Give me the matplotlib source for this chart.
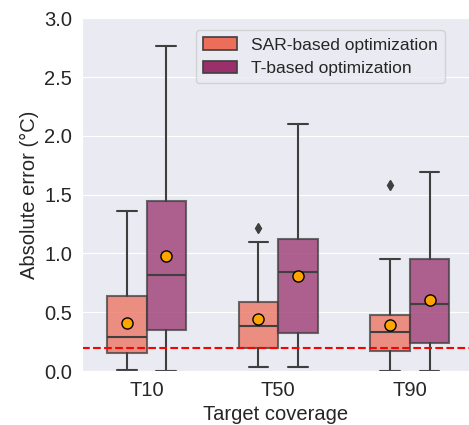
import numpy as np
import matplotlib
matplotlib.use("Agg")
import matplotlib.pyplot as plt
import seaborn as sns
from matplotlib.patches import Patch

sns.set_style("darkgrid")
plt.rcParams['font.family'] = ['Liberation Sans', 'DejaVu Sans']

coverage = ['T10', 'T50', 'T90']
methods = ['SAR-based optimization', 'T-based optimization']
colors = ['#ec6e5a', '#99306b']

# summary stats: per method, per coverage
whislo = [[0.01, 0.03, 0.00], [0.00, 0.03, 0.00]]
q1 = [[0.15, 0.20, 0.17], [0.35, 0.32, 0.24]]
med = [[0.29, 0.38, 0.33], [0.82, 0.84, 0.57]]
q3 = [[0.64, 0.59, 0.48], [1.45, 1.12, 0.95]]
whishi = [[1.36, 1.10, 0.95], [2.76, 2.10, 1.69]]
means = [[0.41, 0.44, 0.39], [0.98, 0.81, 0.60]]
fliers = [[[], [1.22], [1.58]], [[], [], []]]
threshold = 0.2

fig, ax = plt.subplots(figsize=(4.69, 4.25), dpi=100)
fig.subplots_adjust(left=0.175, right=1.0, top=0.957, bottom=0.127)

x = np.arange(len(coverage))
w = 0.3
for m in range(2):
    stats = []
    for i in range(3):
        stats.append(dict(whislo=whislo[m][i], q1=q1[m][i], med=med[m][i],
                          q3=q3[m][i], whishi=whishi[m][i], mean=means[m][i],
                          fliers=fliers[m][i]))
    pos = x + (m - 0.5) * w
    ax.bxp(stats, positions=pos, widths=w, patch_artist=True, showmeans=True,
           boxprops=dict(facecolor=colors[m], edgecolor='#3f3f3f', linewidth=1.5, alpha=0.75),
           medianprops=dict(color='#3f3f3f', linewidth=1.5),
           whiskerprops=dict(color='#3f3f3f', linewidth=1.5),
           capprops=dict(color='#3f3f3f', linewidth=1.5),
           flierprops=dict(marker='d', markerfacecolor='#3f3f3f', markeredgecolor='#3f3f3f', markersize=5),
           meanprops=dict(marker='o', markerfacecolor='orange', markeredgecolor='black', markersize=8),
           manage_ticks=False)

ax.axhline(threshold, color='red', linestyle='--', linewidth=1.5)

ax.grid(False, axis='x')
ax.set_xticks(x)
ax.set_xticklabels(coverage)
ax.set_xlim(-0.49, 2.45)
ax.set_ylim(0, 3.0)
ax.set_yticks(np.arange(0, 3.01, 0.5))
ax.tick_params(labelsize=14.5)
ax.set_xlabel('Target coverage', fontsize=14.5)
ax.set_ylabel('Absolute error (°C)', fontsize=14.5)

handles = [Patch(facecolor=c, edgecolor='#3f3f3f', linewidth=1.2) for c in colors]
ax.legend(handles, methods, loc='upper right', fontsize=12.5, bbox_to_anchor=(0.96, 0.99))

fig.savefig('out.png', dpi=100)
